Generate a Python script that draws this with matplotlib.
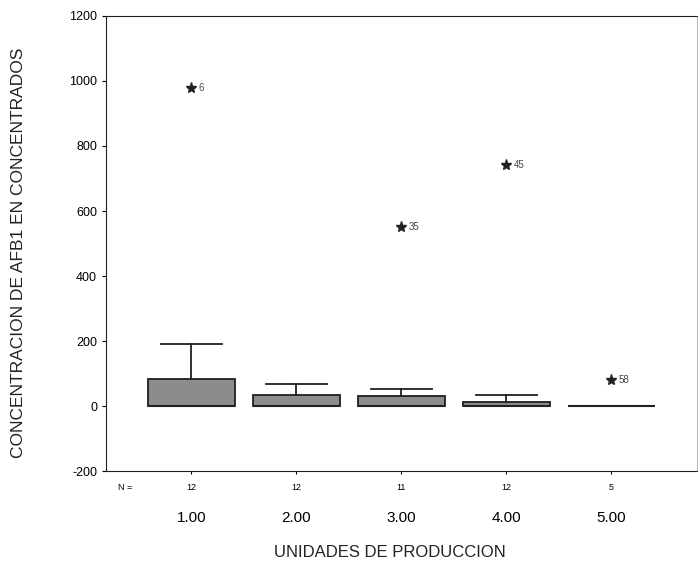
import matplotlib
matplotlib.use("Agg")
import matplotlib.pyplot as plt

plt.rcParams["font.family"] = ["Liberation Sans", "DejaVu Sans"]
plt.rcParams["axes.unicode_minus"] = False

# data
units = ["1.00", "2.00", "3.00", "4.00", "5.00"]
n_cases = ["12", "12", "11", "12", "5"]
q1 = [0, 0, 0, 0, 0]
median = [0, 0, 0, 0, 0]
q3 = [83, 34, 31, 13, 0]
whisker_lo = [0, 0, 0, 0, 0]
whisker_hi = [190, 68, 54, 34, 0]
outliers = [[978], [], [551], [741], [80]]
outlier_ids = [["6"], [], ["35"], ["45"], ["58"]]

fig = plt.figure(figsize=(6.98, 5.69), dpi=100)
ax = fig.add_axes([0.152, 0.172, 0.846, 0.80])

stats = []
for i in range(len(units)):
    stats.append(dict(med=median[i], q1=q1[i], q3=q3[i],
                      whislo=whisker_lo[i], whishi=whisker_hi[i],
                      fliers=outliers[i]))
pos = list(range(1, len(units) + 1))
ax.bxp(stats, positions=pos, widths=0.83, patch_artist=True,
       boxprops=dict(facecolor="#8c8c8c", edgecolor="#202020", linewidth=1.3),
       medianprops=dict(color="#202020", linewidth=1.5),
       whiskerprops=dict(color="#202020", linewidth=1.3),
       capprops=dict(color="#202020", linewidth=1.3),
       capwidths=0.58,
       flierprops=dict(marker="*", markersize=8, markerfacecolor="#222",
                       markeredgecolor="#222"))

for p, ys, ids in zip(pos, outliers, outlier_ids):
    for y, lab in zip(ys, ids):
        ax.annotate(lab, (p, y), xytext=(5, 0), textcoords="offset points",
                    fontsize=7, va="center", color="#444")

ax.set_xlim(0.19, 5.81)
ax.set_ylim(-200, 1200)
ax.set_yticks(range(-200, 1201, 200))
ax.tick_params(axis="y", labelsize=9, direction="out", length=3)
ax.set_xticks(pos)
ax.set_xticklabels(units, fontsize=11)
ax.tick_params(axis="x", length=2, pad=27)

# N= row under the axis
trans = ax.get_xaxis_transform()
ax.text(0.37, -0.037, "N =", transform=trans, fontsize=6.5, ha="center", va="center")
for p, n in zip(pos, n_cases):
    ax.text(p, -0.037, n, transform=trans, fontsize=6.5, ha="center", va="center")

for s in ax.spines.values():
    s.set_color("#202020")
ax.spines["right"].set_color("#bbbbbb")

ax.set_ylabel("CONCENTRACION DE AFB1 EN CONCENTRADOS", fontsize=12.5, color="#222")
ax.yaxis.set_label_coords(-0.135, 0.48)
ax.set_xlabel("UNIDADES DE PRODUCCION", fontsize=12, color="#222")
ax.xaxis.set_label_coords(0.48, -0.163)

plt.savefig("out.png", dpi=100)
